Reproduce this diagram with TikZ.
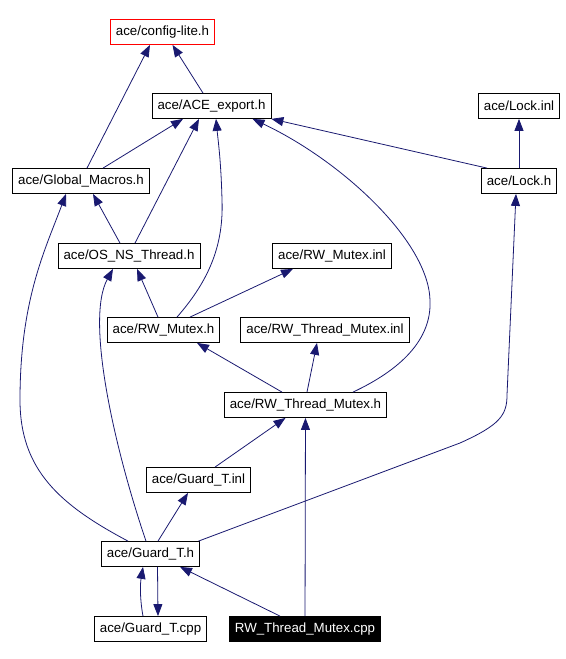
\documentclass[tikz,border=0pt]{standalone}
\usepackage{fontspec}
\setmainfont{Liberation Sans}
\usetikzlibrary{arrows.meta}
\definecolor{edgeblue}{RGB}{25,25,112}

\begin{document}
\begin{tikzpicture}[x=1bp, y=-1bp,
  file/.style={shape=rectangle, draw=black, line width=0.8bp, minimum height=25bp,
    inner xsep=5.5bp, inner ysep=0pt, font=\fontsize{13.3bp}{16bp}\selectfont},
  dep/.style={-{Triangle[length=12bp,width=9bp]}, line width=0.8bp, draw=edgeblue}]
\useasboundingbox (0,0) rectangle (566,659);
\node[file, draw=red] (cfg) at (162.5,32) {ace/config-lite.h};
\node[file] (exp) at (211.5,106) {ace/ACE\_export.h};
\node[file] (lockinl) at (519,106) {ace/Lock.inl};
\node[file] (gm) at (81,181) {ace/Global\_Macros.h};
\node[file] (lockh) at (519,181) {ace/Lock.h};
\node[file] (os) at (129,256) {ace/OS\_NS\_Thread.h};
\node[file] (rwminl) at (332,256) {ace/RW\_Mutex.inl};
\node[file] (rwm) at (163.5,330) {ace/RW\_Mutex.h};
\node[file] (rtminl) at (325,330) {ace/RW\_Thread\_Mutex.inl};
\node[file] (rtm) at (305.5,405) {ace/RW\_Thread\_Mutex.h};
\node[file] (gtinl) at (198.5,480) {ace/Guard\_T.inl};
\node[file] (gt) at (150.5,554) {ace/Guard\_T.h};
\node[file] (gtcpp) at (150.5,629) {ace/Guard\_T.cpp};
\node[file, fill=black, text=white] (rtmcpp) at (305,629) {RW\_Thread\_Mutex.cpp};
% includes
\draw[dep] ([xshift=6bp]gm.north) -- ([xshift=-12.5bp]cfg.south);
\draw[dep] ([xshift=-8.5bp]exp.north) -- ([xshift=10bp]cfg.south);
\draw[dep] ([xshift=22bp]gm.north) -- ([xshift=-28.5bp]exp.south);
\draw[dep] ([xshift=6bp]os.north) -- ([xshift=-12.5bp]exp.south);
\draw[dep] ([xshift=13.5bp]rwm.north) .. controls (205,285) and (224,250) .. (222,200)
  .. controls (221,160) and (218,140) .. ([xshift=4.5bp]exp.south);
\draw[dep] ([xshift=47.5bp]rtm.north) .. controls (400,370) and (432,340) .. (430,300)
  .. controls (428,240) and (340,160) .. ([xshift=41bp]exp.south);
\draw[dep] ([xshift=-32bp]lockh.north) -- (exp.south east);
\draw[dep] (lockh) -- (lockinl);
\draw[dep] ([xshift=-9bp]os.north) -- ([xshift=12bp]gm.south);
\draw[dep] ([xshift=-22.5bp]gt.north) .. controls (60,505) and (20,470) .. (20,400)
  .. controls (20,300) and (45,250) .. ([xshift=-15bp]gm.south);
\draw[dep] ([xshift=-5.5bp]rwm.north) -- ([xshift=8bp]os.south);
\draw[dep] ([xshift=-4.5bp]gt.north) .. controls (115,450) and (85,320) .. ([xshift=-16bp]os.south);
\draw[dep] ([xshift=26.5bp]rwm.north) -- ([xshift=-39bp]rwminl.south);
\draw[dep] ([xshift=-23.5bp]rtm.north) -- ([xshift=33.5bp]rwm.south);
\draw[dep] ([xshift=1.5bp]rtm.north) -- ([xshift=-8bp]rtminl.south);
\draw[dep] ([xshift=16.5bp]gtinl.north) -- ([xshift=-20bp]rtm.south);
\draw[dep] ([xshift=7.5bp]gt.north) -- ([xshift=-10.5bp]gtinl.south);
\draw[dep] ([xshift=48bp]gt.north) -- (460,443) .. controls (500,425) and (507,415) .. (507,395)
  -- ([xshift=-3bp]lockh.south);
\draw[dep] ([xshift=-7.5bp]gtcpp.north) .. controls (140,600) and (140,585) .. ([xshift=-7.5bp]gt.south);
\draw[dep] ([xshift=7bp]gt.south) -- ([xshift=7.5bp]gtcpp.north);
\draw[dep] ([xshift=-25bp]rtmcpp.north) -- ([xshift=29.5bp]gt.south);
\draw[dep] (rtmcpp) -- (rtm);
\end{tikzpicture}
\end{document}
